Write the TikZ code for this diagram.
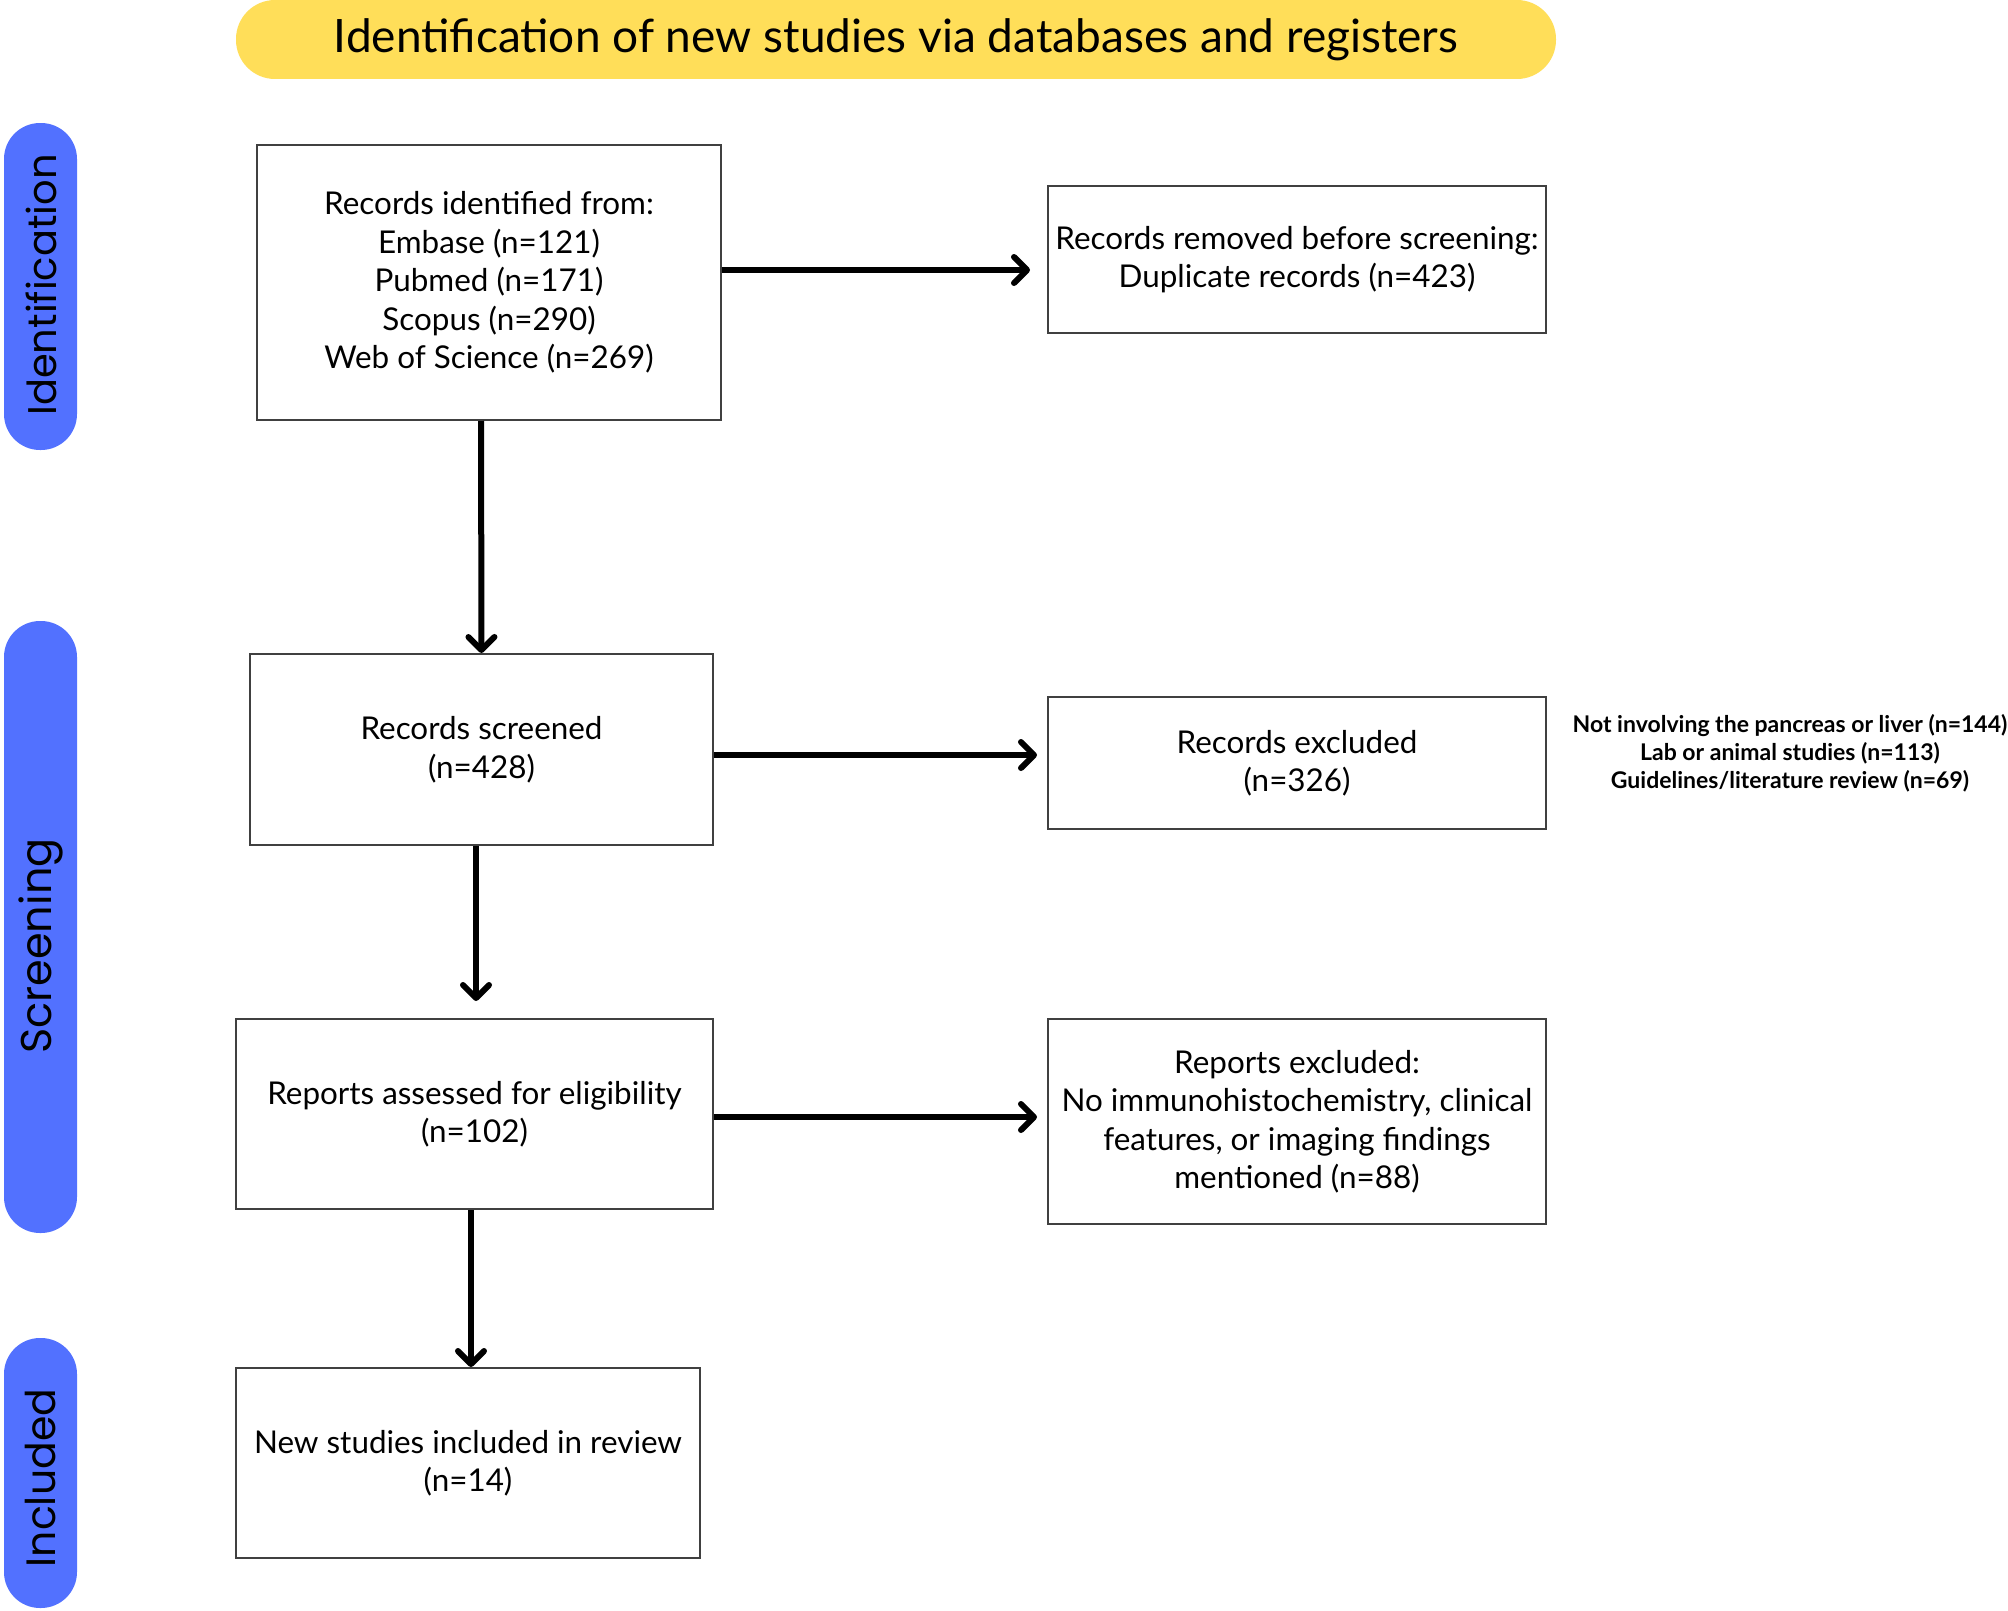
\documentclass[tikz,border=0pt]{standalone}
\usepackage{fontspec}
\setmainfont{Lato}
\newfontfamily\sidefont{Poppins}
\usetikzlibrary{arrows.meta}
\definecolor{bannery}{HTML}{FFDE59}
\definecolor{pillb}{HTML}{5271FF}
\tikzset{
  stagebox/.style={draw=black!75, line width=2pt, fill=white, align=center, inner sep=0pt,
    font=\fontsize{31.4}{38.5}\selectfont},
  pill/.style={fill=pillb, rounded corners=36pt, inner sep=0pt, minimum width=73pt},
  pilltext/.style={rotate=90, inner sep=0pt, font=\sidefont\fontsize{41}{48}\selectfont},
  arr/.style={line width=6pt, -{Straight Barb[length=13pt,width=26pt,round]}},
}
\begin{document}
\begin{tikzpicture}[x=1pt,y=-1pt]
\useasboundingbox (0,0) rectangle (2008,1611);
% banner
\node[fill=bannery, rounded corners=39pt, minimum width=1320pt, minimum height=79pt, inner sep=0pt,
  font=\fontsize{46}{52}\selectfont] (banner) at (896,39.5) {Identification of new studies via databases and registers};
% stage pills
\node[pill, minimum height=327pt] (pid) at (40.5,286.5) {};
\node[pill, minimum height=612pt] (psc) at (40.5,927) {};
\node[pill, minimum height=270pt] (pin) at (40.5,1473) {};
\node[pilltext, font=\sidefont\fontsize{40}{48}\selectfont] (tid) at (41,285) {Identification};
\node[pilltext, font=\sidefont\fontsize{43}{48}\selectfont] (tsc) at (41,946) {Screening};
\node[pilltext] (tin) at (41,1478) {Included};
% boxes
\node[stagebox, minimum width=464pt, minimum height=275pt] (b1) at (489,282.5)
  {Records identified from:\\Embase (n=121)\\Pubmed (n=171)\\Scopus (n=290)\\Web of Science (n=269)};
\node[stagebox, minimum width=498pt, minimum height=147pt] (rm) at (1297,259.5)
  {Records removed before screening:\\Duplicate records (n=423)};
\node[stagebox, minimum width=463pt, minimum height=191pt] (b2) at (481.5,749.5)
  {Records screened\\(n=428)};
\node[stagebox, minimum width=498pt, minimum height=132pt] (ex) at (1297,763)
  {Records excluded\\(n=326)};
\node[stagebox, minimum width=477pt, minimum height=190pt] (b3) at (474.5,1114)
  {Reports assessed for eligibility\\(n=102)};
\node[stagebox, minimum width=498pt, minimum height=205pt] (rx) at (1297,1121.5)
  {Reports excluded:\\No immunohistochemistry, clinical\\features, or imaging findings\\mentioned (n=88)};
\node[stagebox, minimum width=464pt, minimum height=190pt] (b4) at (468,1463)
  {New studies included in review\\(n=14)};
\node[align=center, inner sep=0pt, font=\bfseries\fontsize{23}{28}\selectfont] (why) at (1790,753)
  {Not involving the pancreas or liver (n=144)\\Lab or animal studies (n=113)\\Guidelines/literature review (n=69)};
% connectors
\draw[arr, shorten >=17pt] ([yshift=12.5pt]b1.east) -- ([yshift=-10.5pt]rm.west);
\draw[arr, shorten >=10pt] ([yshift=-5.5pt]b2.east) -- ([yshift=8pt]ex.west);
\draw[arr, shorten >=10pt] ([yshift=-3pt]b3.east) -- ([yshift=4.5pt]rx.west);
\draw[arr] ([xshift=-8pt]b1.south) -- (b2.north);
\draw[arr, shorten >=17pt] ([xshift=-5.5pt]b2.south) -- ([xshift=1.5pt]b3.north);
\draw[arr] ([xshift=-3.5pt]b3.south) -- ([xshift=3pt]b4.north);
\end{tikzpicture}
\end{document}
